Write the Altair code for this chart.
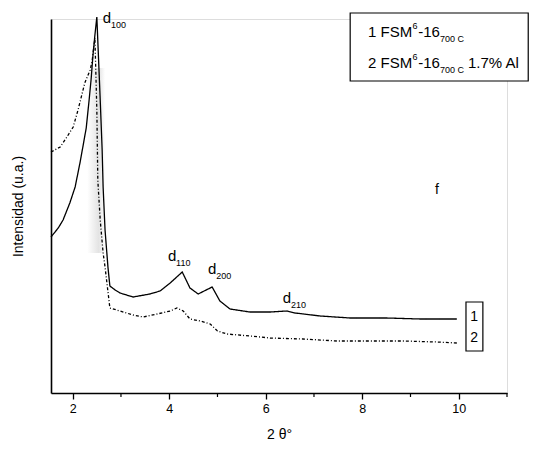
import altair as alt
import pandas as pd

# ---- data ----
theta_1 = [1.55, 1.70, 1.80, 1.94, 2.05, 2.15, 2.21, 2.28, 2.34, 2.38, 2.42, 2.46, 2.50, 2.57, 2.61,
           2.63, 2.67, 2.73, 2.77, 2.88, 2.98, 3.25, 3.60, 3.81, 4.02, 4.27, 4.43, 4.60, 4.89,
           5.05, 5.26, 5.67, 6.09, 6.44, 6.61, 7.13, 7.75, 8.51, 9.20, 9.96]
int_1 = [156, 165, 173, 190, 206, 230, 246, 265, 293, 313, 338, 358, 376, 293, 243,
         206, 163, 126, 107, 103, 100, 96, 99, 102, 110, 121, 105, 99, 106,
         92, 84, 81, 81, 82, 80, 77, 75, 75, 74, 74]

theta_2 = [1.55, 1.74, 1.88, 2.01, 2.11, 2.25, 2.36, 2.40, 2.46, 2.50, 2.52, 2.57, 2.63, 2.67,
           2.77, 2.98, 3.25, 3.46, 3.75, 4.02, 4.16, 4.29, 4.43, 4.64, 4.85, 5.00, 5.20, 5.67,
           6.09, 6.77, 7.48, 8.16, 8.85, 9.55, 9.96]
int_2 = [241, 246, 256, 266, 283, 310, 323, 331, 355, 283, 213, 173, 140, 126,
         85, 82, 78, 76, 79, 82, 85, 82, 74, 72, 69, 62, 59, 57,
         55, 54, 52, 52, 52, 51, 50]

series_names = ["1", "2"]
major_ticks = [2, 4, 6, 8, 10]
minor_ticks = [3, 5, 7, 9, 11]

# peak labels: position of the "d" and its subscript
peak_x = [2.71, 4.06, 4.89, 6.44]
peak_y = [375, 137, 124, 95]
peak_sub = ["100", "110", "200", "210"]

df = pd.concat([
    pd.DataFrame({"t": theta_1, "i": int_1, "s": series_names[0]}),
    pd.DataFrame({"t": theta_2, "i": int_2, "s": series_names[1]}),
])

XS = alt.Scale(domain=[1.55, 11], nice=False, zero=False)
YS = alt.Scale(domain=[0, 374], nice=False, zero=False)
FONT = "Liberation Sans"

def X(field="t"):
    return alt.X(f"{field}:Q", scale=XS)

def Y(field="i"):
    return alt.Y(f"{field}:Q", scale=YS)

# gray scan smear around the main peak
smear = alt.Chart(pd.DataFrame({"a": [2.30], "b": [2.67], "lo": [140], "hi": [325]})).mark_rect(
    color=alt.Gradient(gradient="linear", x1=0, x2=1, y1=0, y2=0,
                       stops=[alt.GradientStop(color="#ffffff", offset=0),
                              alt.GradientStop(color="#e0e0e0", offset=0.65),
                              alt.GradientStop(color="#ffffff", offset=1)]),
    opacity=0.9
).encode(x=X("a"), x2="b:Q", y=Y("lo"), y2="hi:Q")

lines = alt.Chart(df).mark_line(strokeWidth=1.3, clip=False).encode(
    x=alt.X("t:Q", scale=XS,
            axis=alt.Axis(values=major_ticks, title="2 θ°", grid=False, domainColor="black",
                          domainWidth=1.6, tickColor="black", tickSize=6, tickWidth=1.3,
                          labelFont=FONT, labelFontSize=12.5, labelColor="black",
                          labelPadding=3, titleFont=FONT, titleFontSize=14,
                          titleFontWeight="normal", titleColor="black", titlePadding=13)),
    y=alt.Y("i:Q", scale=YS,
            axis=alt.Axis(labels=False, ticks=False, grid=False, title="Intensidad (u.a.)",
                          domainColor="black", domainWidth=1.6, titleFont=FONT,
                          titleFontSize=14, titleFontWeight="normal", titleColor="black",
                          titlePadding=26)),
    detail="s:N",
    strokeDash=alt.StrokeDash("s:N", scale=alt.Scale(domain=series_names,
                                                       range=[[1, 0], [3, 2, 1, 2]]), legend=None),
    color=alt.value("black"),
)

minor = alt.Chart(pd.DataFrame({"m": minor_ticks})).mark_rule(color="black", strokeWidth=1.2).encode(
    x=X("m"), y=alt.value(374), y2=alt.value(378))

pk = pd.DataFrame({"x": peak_x, "y": peak_y, "sub": peak_sub})
peak_d = alt.Chart(pk).mark_text(font=FONT, fontSize=15, align="center", baseline="middle",
                                 color="black").encode(x=X("x"), y=Y("y"), text=alt.value("d"))
peak_s = alt.Chart(pk).mark_text(font=FONT, fontSize=9, align="left", baseline="middle",
                                 color="black", dx=4, dy=7).encode(x=X("x"), y=Y("y"), text="sub:N")

f_lbl = alt.Chart(pd.DataFrame({"x": [9.55], "y": [203], "txt": ["f"]})).mark_text(
    font=FONT, fontSize=14, color="black").encode(x=X("x"), y=Y("y"), text="txt:N")

# legend box (top right)
box = alt.Chart(pd.DataFrame({"a": [7.75], "b": [11.44], "lo": [312], "hi": [380]})).mark_rect(
    fill="white", stroke="black", strokeWidth=1.2).encode(x=X("a"), x2="b:Q", y=Y("lo"), y2="hi:Q")

leg_main = pd.DataFrame({
    "x": [8.12, 9.16, 8.12, 9.16, 10.19],
    "y": [356, 356, 325, 325, 325],
    "txt": ["1 FSM", "-16", "2 FSM", "-16", "1.7% Al"],
})
leg_small = pd.DataFrame({
    "x": [9.04, 9.61, 9.04, 9.61],
    "y": [364, 351, 333, 320],
    "txt": ["6", "700 C", "6", "700 C"],
})
leg1 = alt.Chart(leg_main).mark_text(font=FONT, fontSize=15, align="left", baseline="alphabetic",
                                     color="black").encode(x=X("x"), y=Y("y"), text="txt:N")
leg2 = alt.Chart(leg_small).mark_text(font=FONT, fontSize=9, align="left", baseline="alphabetic",
                                      color="black").encode(x=X("x"), y=Y("y"), text="txt:N")

# small boxed series numbers at right end
nbox = alt.Chart(pd.DataFrame({"a": [10.15], "b": [10.50], "lo": [42], "hi": [91]})).mark_rect(
    fill="white", stroke="black", strokeWidth=1.2).encode(x=X("a"), x2="b:Q", y=Y("lo"), y2="hi:Q")
nums = alt.Chart(pd.DataFrame({"x": [10.32, 10.32], "y": [76, 55], "txt": series_names})).mark_text(
    font=FONT, fontSize=14, color="black").encode(x=X("x"), y=Y("y"), text="txt:N")

chart = alt.layer(smear, lines, minor, peak_d, peak_s, f_lbl, box, leg1, leg2, nbox, nums).properties(
    width=456, height=374,
    autosize=alt.AutoSizeParams(type="none"),
    padding={"left": 43, "top": 11, "right": 25, "bottom": 51},
).configure_view(stroke=None).configure(background="white")

chart.save("out.html", embed_options={"renderer": "svg", "actions": False})
